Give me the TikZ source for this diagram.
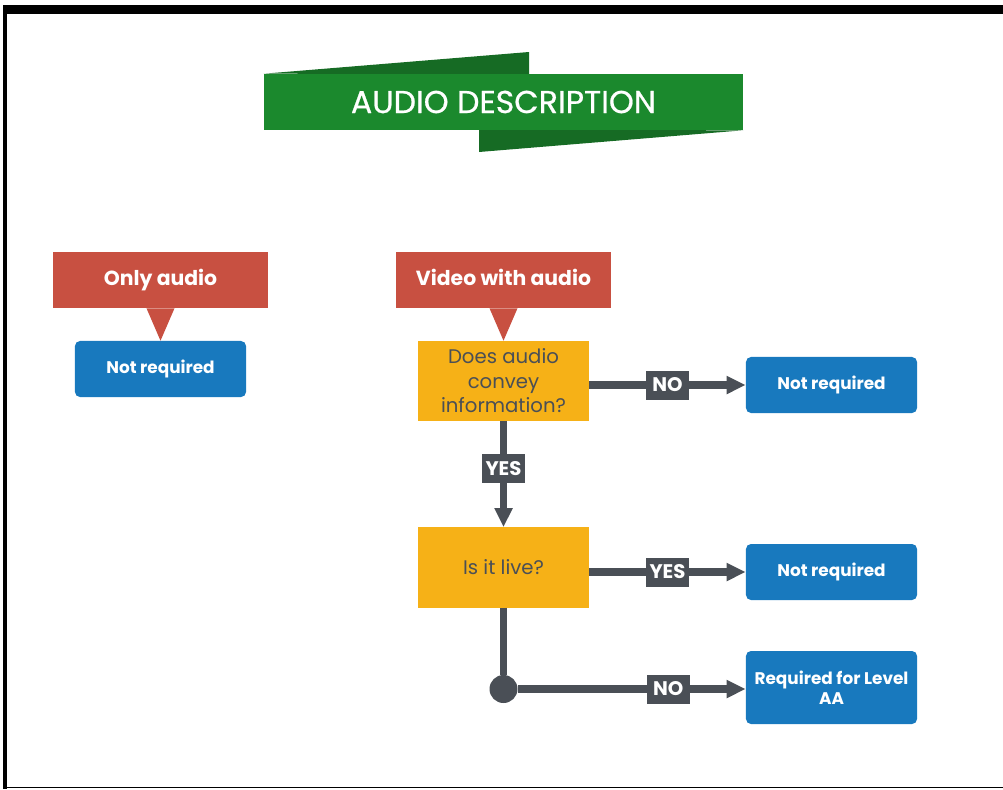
\documentclass[tikz,border=0pt]{standalone}
\usepackage{fontspec}
\setmainfont{Poppins}
\newfontfamily\bannerfont[FakeBold=0.6]{Poppins}
\usetikzlibrary{arrows.meta}
\definecolor{hdrred}{HTML}{C85041}
\definecolor{ansblue}{HTML}{1879BE}
\definecolor{qyellow}{HTML}{F6B117}
\definecolor{linegray}{HTML}{4A4F56}
\definecolor{bannergreen}{HTML}{1B892D}
\definecolor{bannerdark}{HTML}{166B24}
\begin{document}
\begin{tikzpicture}[
    x=0.025cm, y=-0.025cm,
    banner/.style={rectangle,fill=bannergreen,text=white,minimum width=11.975cm,minimum height=1.4cm,font=\bannerfont\fontsize{22.5}{26}\selectfont},
    header/.style={rectangle,fill=hdrred,text=white,minimum width=5.375cm,minimum height=1.4cm,text height=0.9em,text depth=0.16em,font=\bfseries\fontsize{14.5}{17}\selectfont},
    answer/.style={rectangle,rounded corners=0.125cm,fill=ansblue,text=white,minimum width=4.275cm,minimum height=1.4cm,align=center,font=\bfseries\fontsize{12}{14.5}\selectfont},
    question/.style={rectangle,fill=qyellow,text=linegray,minimum width=4.275cm,minimum height=2cm,align=center,font=\fontsize{14}{17.4}\selectfont},
    flow/.style={draw=linegray,line width=0.19cm},
    arrowflow/.style={flow,-{Triangle[length=0.475cm,width=0.425cm]}},
    tag/.style={fill=linegray,text=white,inner sep=0pt,minimum width=1.075cm,minimum height=0.725cm,font=\bfseries\fontsize{14}{16}\selectfont},
  ]
\useasboundingbox (0,0) rectangle (1003,789);

% Frame
\fill[black] (3,5) rectangle (1003,14);
\fill[black] (3,5) rectangle (7,789);
\draw[black,line width=0.6pt] (7,787) -- (1003,787);

% Title banner
\node[banner] (title) at (503.5,102) {AUDIO DESCRIPTION};
\fill[bannerdark] (title.north west) -- (529,52) -- (529,74) -- cycle;
\fill[bannerdark] (479,130) -- (479,152) -- (title.south east) -- cycle;

% Define nodes
\node[header] (only) at (160.5,280) {Only audio};
\node[answer] (nr1) at (160.5,369) {Not required};
\node[header] (video) at (503.5,280) {Video with audio};
\node[question] (q1) at (503.5,381) {Does audio\\convey\\information?};
\node[answer] (nr2) at (831.5,385) {Not required};
\node[question] (q2) at (503.5,567.5) {Is it live?};
\node[answer] (nr3) at (831.5,572) {Not required};
\node[answer,minimum height=1.825cm] (req) at (831.5,687.5) {Required for Level\\AA};
\node[circle,fill=linegray,minimum size=0.7cm,inner sep=0pt] (dot) at (503.5,689) {};

% Draw pointers
\fill[hdrred] ([xshift=-0.35cm]only.south) -- ([xshift=0.35cm]only.south) -- (nr1.north) -- cycle;
\fill[hdrred] ([xshift=-0.35cm]video.south) -- ([xshift=0.35cm]video.south) -- (q1.north) -- cycle;

% Draw connections
\draw[arrowflow] (q1.east |- nr2.west) -- (nr2.west) node[tag,midway] {NO};
\draw[arrowflow] (q1.south) -- (q2.north) node[tag,pos=0.45] {YES};
\draw[arrowflow] (q2.east |- nr3.west) -- (nr3.west) node[tag,midway] {YES};
\draw[flow] (q2.south) -- (dot);
\draw[arrowflow] (dot) -- (dot -| req.west) node[tag,pos=0.66] {NO};

\end{tikzpicture}
\end{document}
